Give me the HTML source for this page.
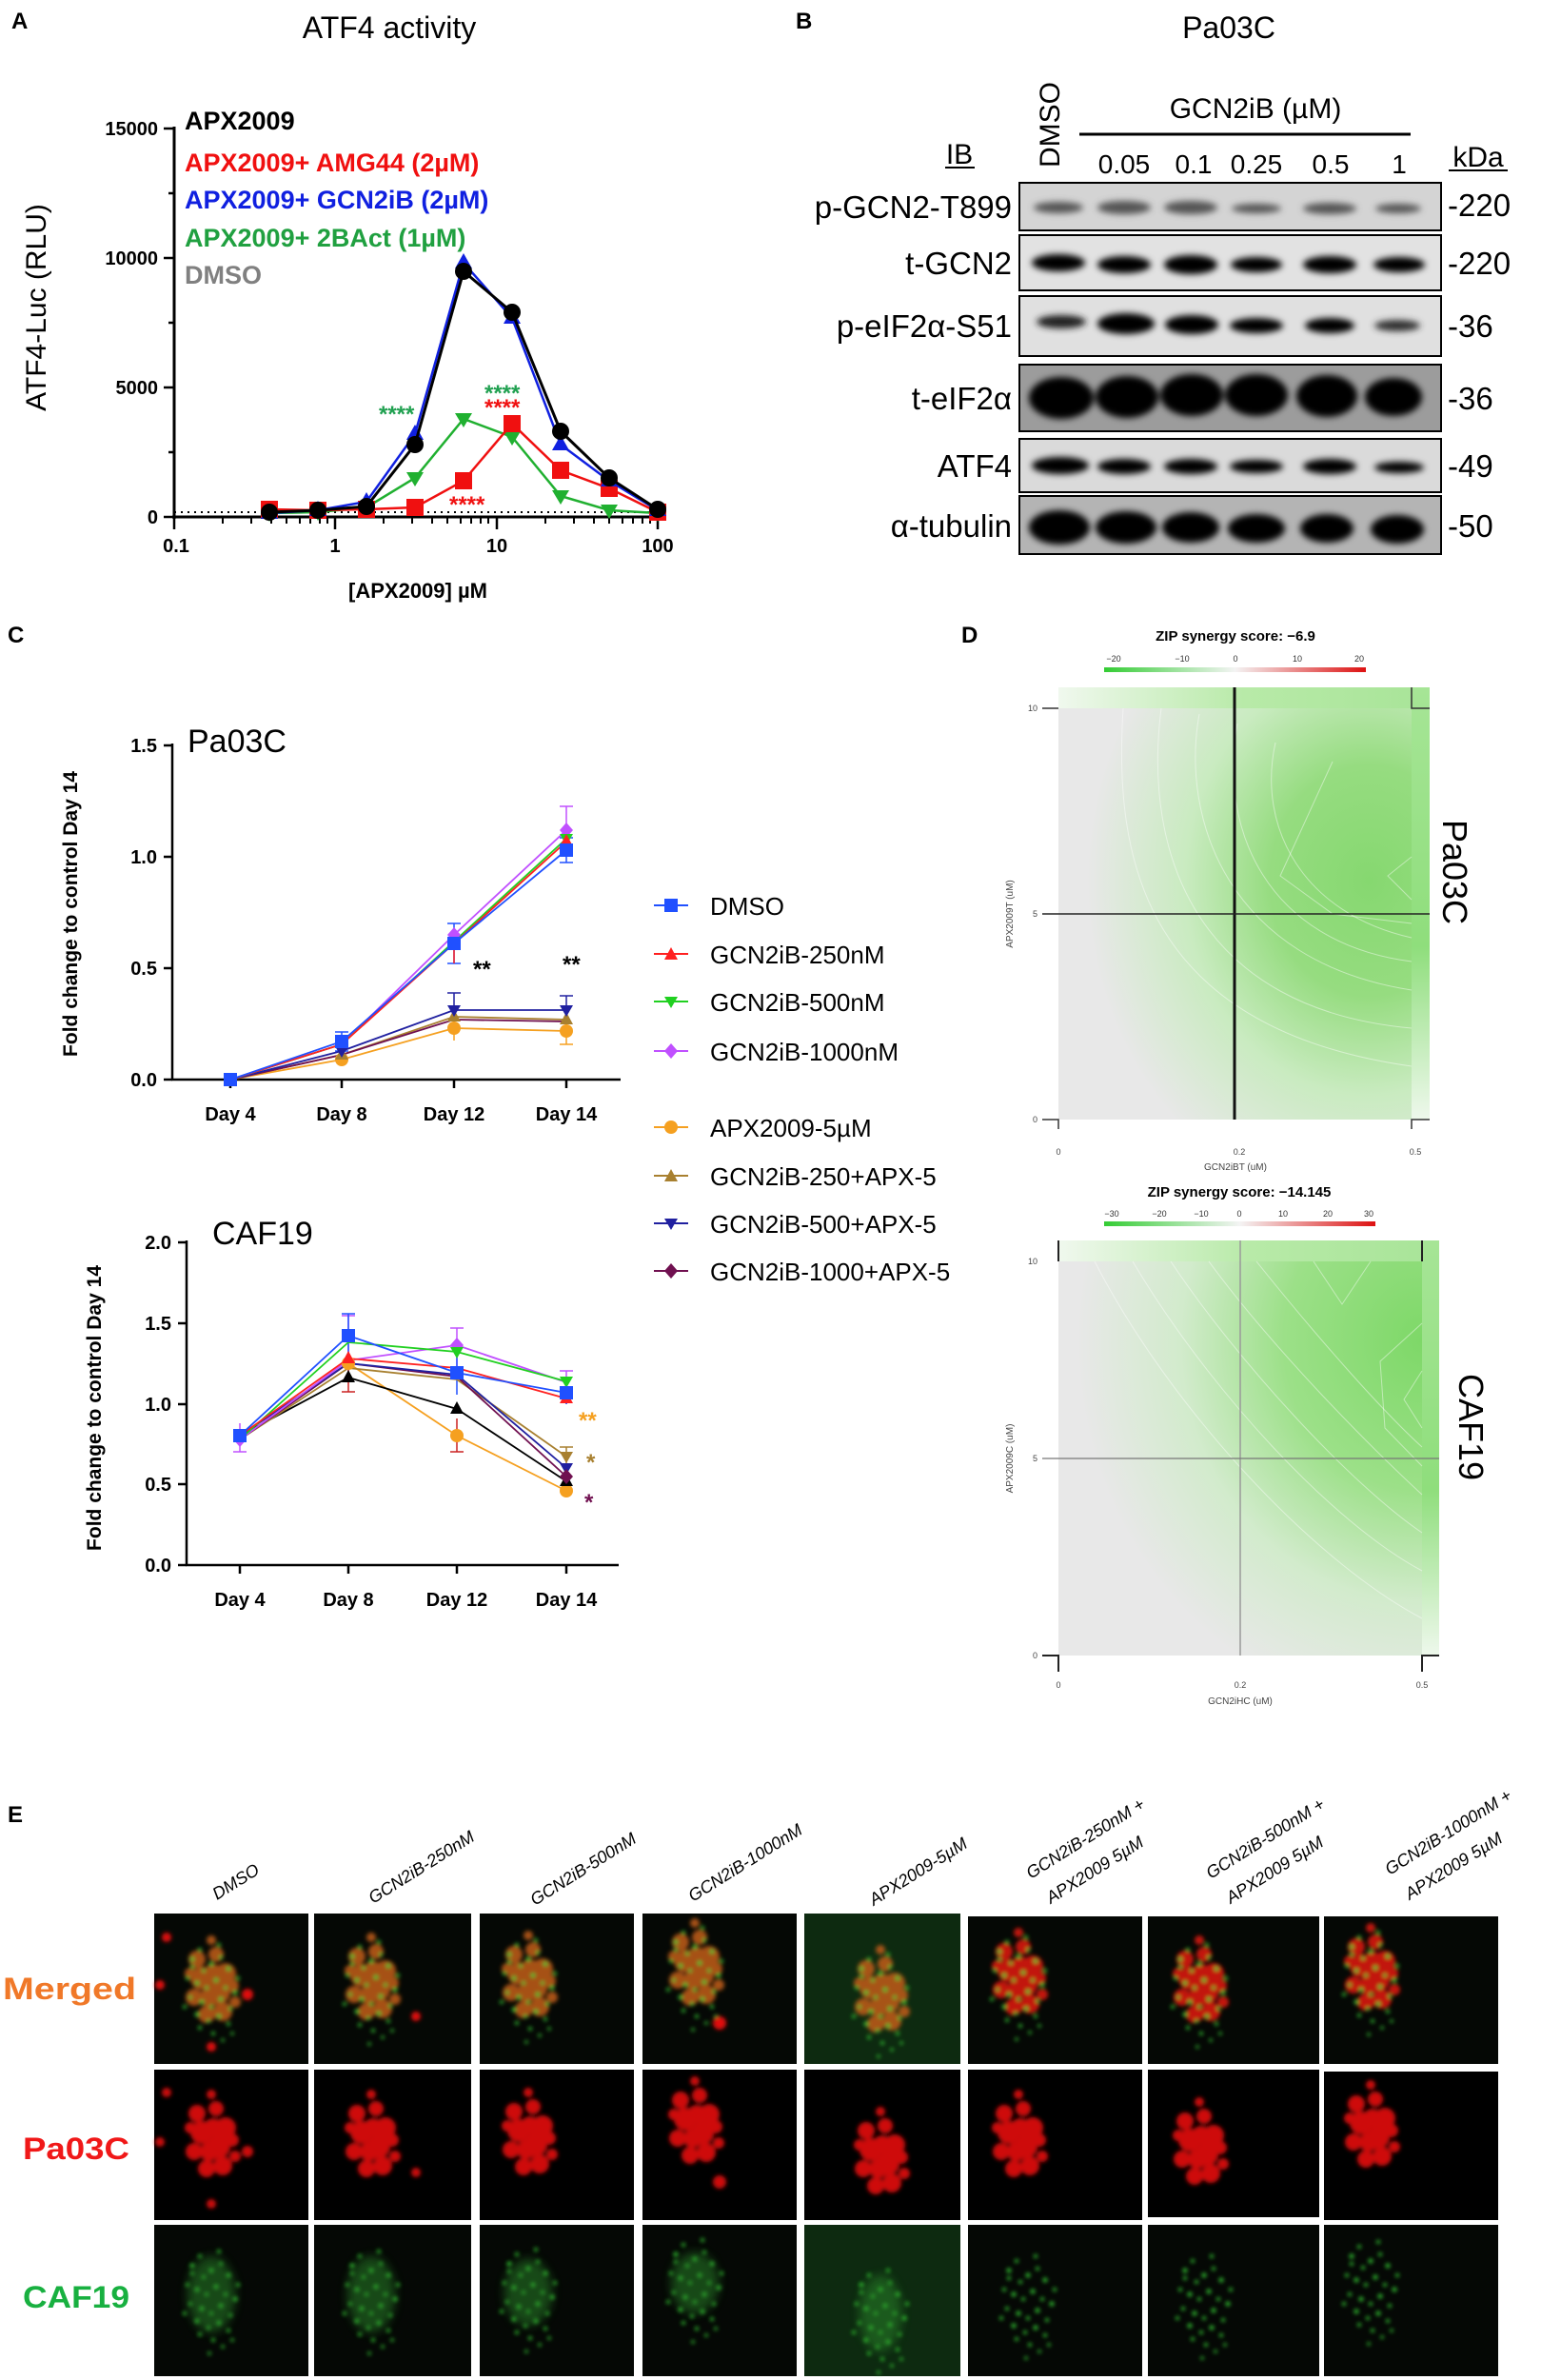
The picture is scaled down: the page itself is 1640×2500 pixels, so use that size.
<!DOCTYPE html>
<html><head><meta charset="utf-8"><style>
html,body{margin:0;padding:0;background:#fff;}
svg{display:block;}
text{font-family:"Liberation Sans",Arial,sans-serif;}
</style></head><body>
<svg width="1640" height="2500" viewBox="0 0 1640 2500" xmlns="http://www.w3.org/2000/svg">
<defs>
<rect id="sq" x="-7" y="-7" width="14" height="14"/>
<polygon id="tu" points="0,-8 7,5 -7,5"/>
<polygon id="td" points="0,7 7,-5 -7,-5"/>
<polygon id="di" points="0,-8 7,0 0,8 -7,0"/>
<circle id="ci" r="7"/>
<rect id="sqA" x="-9" y="-9" width="18" height="18"/>
<polygon id="tuA" points="0,-10 9,6 -9,6"/>
<polygon id="tdA" points="0,9 9,-6 -9,-6"/>
<circle id="ciA" r="9"/>
<filter id="bl" x="-50%" y="-50%" width="200%" height="200%"><feGaussianBlur stdDeviation="2.2"/></filter>
<filter id="bl3" x="-50%" y="-50%" width="200%" height="200%"><feGaussianBlur stdDeviation="3.5"/></filter>
<filter id="bl2" x="-50%" y="-50%" width="200%" height="200%"><feGaussianBlur stdDeviation="5"/></filter>
<g id="red1">
<circle cx="-15" cy="-30" r="9"/><circle cx="5" cy="-35" r="8"/><circle cx="15" cy="-15" r="11"/><circle cx="-10" cy="-10" r="12"/><circle cx="8" cy="5" r="12"/><circle cx="-18" cy="10" r="9"/><circle cx="12" cy="25" r="10"/><circle cx="-5" cy="28" r="9"/><circle cx="22" cy="-2" r="7"/><circle cx="-22" cy="-15" r="6"/><circle cx="0" cy="-50" r="5"/><circle cx="25" cy="15" r="6"/><circle cx="-2" cy="10" r="10"/><circle cx="2" cy="-15" r="10"/>
</g>
<g id="grn1">
<circle cx="-20" cy="-30" r="2.5"/><circle cx="-12" cy="-40" r="2"/><circle cx="0" cy="-25" r="2.5"/><circle cx="10" cy="-32" r="2"/><circle cx="18" cy="-20" r="2.5"/><circle cx="-25" cy="-10" r="2"/><circle cx="-15" cy="-5" r="2.5"/><circle cx="-5" cy="0" r="2"/><circle cx="5" cy="-8" r="2.5"/><circle cx="15" cy="0" r="2"/><circle cx="25" cy="5" r="2.5"/><circle cx="-22" cy="10" r="2"/><circle cx="-10" cy="15" r="2.5"/><circle cx="0" cy="20" r="2"/><circle cx="10" cy="12" r="2.5"/><circle cx="20" cy="22" r="2"/><circle cx="-15" cy="28" r="2.5"/><circle cx="-3" cy="35" r="2"/><circle cx="8" cy="30" r="2.5"/><circle cx="18" cy="38" r="2"/><circle cx="-8" cy="-18" r="2"/><circle cx="8" cy="-45" r="2"/><circle cx="-28" cy="20" r="2"/><circle cx="28" cy="-10" r="2"/><circle cx="2" cy="48" r="2"/><circle cx="-12" cy="42" r="2"/><circle cx="12" cy="55" r="1.8"/><circle cx="-2" cy="62" r="1.8"/><circle cx="22" cy="48" r="1.8"/><circle cx="-20" cy="-22" r="2"/>
</g>
<radialGradient id="hm1" cx="0.88" cy="0.42" r="0.8">
<stop offset="0" stop-color="#86d870"/><stop offset="0.35" stop-color="#96dc80"/><stop offset="0.65" stop-color="#c9ebc0"/><stop offset="1" stop-color="#e8e8e8"/></radialGradient>
<radialGradient id="hm2" cx="1.0" cy="0.2" r="0.95">
<stop offset="0" stop-color="#7ed868"/><stop offset="0.4" stop-color="#9ce088"/><stop offset="0.7" stop-color="#d2ebcc"/><stop offset="1" stop-color="#e8e8e8"/></radialGradient>
<linearGradient id="cb1" x1="0" x2="1"><stop offset="0" stop-color="#33cc33"/><stop offset="0.5" stop-color="#f4f4f4"/><stop offset="1" stop-color="#dd1111"/></linearGradient>
<linearGradient id="bandT" x1="0" x2="1"><stop offset="0" stop-color="#f0f8ee"/><stop offset="0.5" stop-color="#b8eaa8"/><stop offset="1" stop-color="#a8e498"/></linearGradient>
<linearGradient id="bandR" x1="0" x2="0" y1="0" y2="1"><stop offset="0" stop-color="#a6e596"/><stop offset="0.6" stop-color="#8fde7c"/><stop offset="1" stop-color="#eef8ec"/></linearGradient>
</defs>

<!-- ============ PANEL A ============ -->
<text x="12" y="30" font-size="24" font-weight="bold">A</text>
<text x="409" y="40" font-size="32" text-anchor="middle">ATF4 activity</text>
<g stroke="#000" stroke-width="3" fill="none">
<line x1="183" y1="133" x2="183" y2="545"/>
<line x1="181" y1="543" x2="693" y2="543"/>
</g>
<g stroke="#000" stroke-width="2.5">
<line x1="172" y1="135" x2="183" y2="135"/><line x1="172" y1="271" x2="183" y2="271"/><line x1="172" y1="407" x2="183" y2="407"/><line x1="172" y1="543" x2="183" y2="543"/>
<line x1="177" y1="203" x2="183" y2="203"/><line x1="177" y1="339" x2="183" y2="339"/><line x1="177" y1="475" x2="183" y2="475"/>
<line x1="183" y1="543" x2="183" y2="556"/><line x1="352" y1="543" x2="352" y2="556"/><line x1="522" y1="543" x2="522" y2="556"/><line x1="691" y1="543" x2="691" y2="556"/>
</g>
<g stroke="#000" stroke-width="2">
<line x1="234" y1="543" x2="234" y2="550"/><line x1="264" y1="543" x2="264" y2="550"/><line x1="285" y1="543" x2="285" y2="550"/><line x1="301" y1="543" x2="301" y2="550"/><line x1="315" y1="543" x2="315" y2="550"/><line x1="326" y1="543" x2="326" y2="550"/><line x1="336" y1="543" x2="336" y2="550"/><line x1="344" y1="543" x2="344" y2="550"/>
<line x1="403" y1="543" x2="403" y2="550"/><line x1="433" y1="543" x2="433" y2="550"/><line x1="454" y1="543" x2="454" y2="550"/><line x1="470" y1="543" x2="470" y2="550"/><line x1="484" y1="543" x2="484" y2="550"/><line x1="495" y1="543" x2="495" y2="550"/><line x1="505" y1="543" x2="505" y2="550"/><line x1="513" y1="543" x2="513" y2="550"/>
<line x1="573" y1="543" x2="573" y2="550"/><line x1="603" y1="543" x2="603" y2="550"/><line x1="624" y1="543" x2="624" y2="550"/><line x1="640" y1="543" x2="640" y2="550"/><line x1="654" y1="543" x2="654" y2="550"/><line x1="665" y1="543" x2="665" y2="550"/><line x1="675" y1="543" x2="675" y2="550"/><line x1="683" y1="543" x2="683" y2="550"/>
</g>
<g font-size="20" font-weight="bold" text-anchor="end">
<text x="166" y="142">15000</text><text x="166" y="278">10000</text><text x="166" y="414">5000</text><text x="166" y="550">0</text>
</g>
<g font-size="20" font-weight="bold" text-anchor="middle">
<text x="185" y="580">0.1</text><text x="352" y="580">1</text><text x="522" y="580">10</text><text x="691" y="580">100</text>
</g>
<text x="439" y="628" font-size="22" font-weight="bold" text-anchor="middle">[APX2009] µM</text>
<text transform="translate(48,323) rotate(-90)" font-size="30" text-anchor="middle">ATF4-Luc (RLU)</text>
<line x1="183" y1="538" x2="691" y2="538" stroke="#000" stroke-width="2" stroke-dasharray="2,5"/>
<g font-size="27" font-weight="bold">
<text x="194" y="136" fill="#000">APX2009</text>
<text x="194" y="180" fill="#f01010">APX2009+ AMG44 (2µM)</text>
<text x="194" y="219" fill="#1020e0">APX2009+ GCN2iB (2µM)</text>
<text x="194" y="259" fill="#20a040">APX2009+ 2BAct (1µM)</text>
<text x="194" y="298" fill="#808080">DMSO</text>
</g>
<polyline fill="none" stroke="#20b030" stroke-width="2.5" points="283,539 334,538 385,533 436,502 487,440 538,459 589,521 640,536 691,539"/>
<g fill="#20b030"><use href="#tdA" x="283" y="539"/><use href="#tdA" x="334" y="538"/><use href="#tdA" x="385" y="533"/><use href="#tdA" x="436" y="502"/><use href="#tdA" x="487" y="440"/><use href="#tdA" x="538" y="459"/><use href="#tdA" x="589" y="521"/><use href="#tdA" x="640" y="536"/><use href="#tdA" x="691" y="539"/></g>
<polyline fill="none" stroke="#f01010" stroke-width="2.5" points="283,535 334,536 385,535 436,533 487,505 538,445 589,494 640,513 691,538"/>
<g fill="#f01010"><use href="#sqA" x="283" y="535"/><use href="#sqA" x="334" y="536"/><use href="#sqA" x="385" y="535"/><use href="#sqA" x="436" y="533"/><use href="#sqA" x="487" y="505"/><use href="#sqA" x="538" y="445"/><use href="#sqA" x="589" y="494"/><use href="#sqA" x="640" y="513"/><use href="#sqA" x="691" y="538"/></g>
<polyline fill="none" stroke="#1020e0" stroke-width="2.5" points="283,539 334,536 385,527 436,456 487,276 538,334 589,467 640,505 691,536"/>
<g fill="#1020e0"><use href="#tuA" x="283" y="539"/><use href="#tuA" x="334" y="536"/><use href="#tuA" x="385" y="527"/><use href="#tuA" x="436" y="456"/><use href="#tuA" x="487" y="276"/><use href="#tuA" x="538" y="334"/><use href="#tuA" x="589" y="467"/><use href="#tuA" x="640" y="505"/><use href="#tuA" x="691" y="536"/></g>
<polyline fill="none" stroke="#000" stroke-width="3" points="283,538 334,536 385,532 436,467 487,285 538,328 589,453 640,502 691,535"/>
<g fill="#000"><use href="#ciA" x="283" y="538"/><use href="#ciA" x="334" y="536"/><use href="#ciA" x="385" y="532"/><use href="#ciA" x="436" y="467"/><use href="#ciA" x="487" y="285"/><use href="#ciA" x="538" y="328"/><use href="#ciA" x="589" y="453"/><use href="#ciA" x="640" y="502"/><use href="#ciA" x="691" y="535"/></g>
<g font-size="24" font-weight="bold">
<text x="398" y="443" fill="#20a050">****</text>
<text x="509" y="421" fill="#20a050">****</text>
<text x="509" y="436" fill="#f01010">****</text>
<text x="472" y="538" fill="#f01010">****</text>
</g>

<!-- ============ PANEL B ============ -->
<text x="836" y="30" font-size="24" font-weight="bold">B</text>
<text x="1291" y="40" font-size="32" text-anchor="middle">Pa03C</text>
<text x="1008" y="172" font-size="30" text-anchor="middle">IB</text>
<line x1="993" y1="176" x2="1024" y2="176" stroke="#000" stroke-width="2"/>
<text transform="translate(1113,176) rotate(-90)" font-size="30">DMSO</text>
<text x="1319" y="124" font-size="30" text-anchor="middle">GCN2iB (µM)</text>
<line x1="1134" y1="141" x2="1482" y2="141" stroke="#000" stroke-width="3"/>
<g font-size="28" text-anchor="middle">
<text x="1181" y="182">0.05</text><text x="1254" y="182">0.1</text><text x="1320" y="182">0.25</text><text x="1398" y="182">0.5</text><text x="1470" y="182">1</text>
</g>
<text x="1553" y="175" font-size="30" text-anchor="middle">kDa</text>
<line x1="1522" y1="179" x2="1584" y2="179" stroke="#000" stroke-width="2"/>
<g font-size="33" text-anchor="end">
<text x="1063" y="229">p-GCN2-T899</text>
<text x="1063" y="288">t-GCN2</text>
<text x="1063" y="354">p-eIF2α-S51</text>
<text x="1063" y="430">t-eIF2α</text>
<text x="1063" y="501">ATF4</text>
<text x="1063" y="564">α-tubulin</text>
</g>
<g font-size="33">
<text x="1521" y="227">-220</text><text x="1521" y="288">-220</text><text x="1521" y="354">-36</text><text x="1521" y="430">-36</text><text x="1521" y="501">-49</text><text x="1521" y="564">-50</text>
</g>
<g stroke="#000" stroke-width="2">
<rect x="1071" y="192" width="443" height="50" fill="#d4d4d4"/>
<rect x="1071" y="247" width="443" height="58" fill="#e2e2e2"/>
<rect x="1071" y="311" width="443" height="63" fill="#e0e0e0"/>
<rect x="1071" y="383" width="443" height="70" fill="#9c9c9c"/>
<rect x="1071" y="461" width="443" height="56" fill="#dadada"/>
<rect x="1071" y="521" width="443" height="61" fill="#b4b4b4"/>
</g>
<g filter="url(#bl3)" fill="#000">
<g fill="#555"><ellipse cx="1112" cy="218" rx="26" ry="6"/><ellipse cx="1181" cy="218" rx="28" ry="7"/><ellipse cx="1251" cy="218" rx="28" ry="7"/><ellipse cx="1320" cy="219" rx="26" ry="5"/><ellipse cx="1397" cy="219" rx="28" ry="6"/><ellipse cx="1469" cy="219" rx="24" ry="5"/></g>
<ellipse cx="1112" cy="276" rx="28" ry="9"/><ellipse cx="1181" cy="278" rx="28" ry="9"/><ellipse cx="1251" cy="278" rx="28" ry="10"/><ellipse cx="1320" cy="278" rx="27" ry="8"/><ellipse cx="1397" cy="278" rx="28" ry="9"/><ellipse cx="1470" cy="278" rx="27" ry="8"/>
<g fill="#222"><ellipse cx="1115" cy="338" rx="26" ry="7"/></g><ellipse cx="1183" cy="340" rx="30" ry="11"/><ellipse cx="1252" cy="341" rx="28" ry="10"/><ellipse cx="1320" cy="342" rx="28" ry="8"/><ellipse cx="1397" cy="342" rx="26" ry="8"/><g fill="#333"><ellipse cx="1468" cy="342" rx="24" ry="6"/></g>
<ellipse cx="1115" cy="418" rx="34" ry="22"/><ellipse cx="1184" cy="417" rx="33" ry="22"/><ellipse cx="1252" cy="415" rx="33" ry="22"/><ellipse cx="1320" cy="415" rx="33" ry="22"/><ellipse cx="1394" cy="416" rx="32" ry="22"/><ellipse cx="1464" cy="417" rx="30" ry="20"/>
<ellipse cx="1114" cy="489" rx="30" ry="9"/><ellipse cx="1181" cy="490" rx="28" ry="8"/><ellipse cx="1251" cy="490" rx="28" ry="8"/><ellipse cx="1320" cy="490" rx="28" ry="7"/><ellipse cx="1397" cy="490" rx="28" ry="8"/><ellipse cx="1470" cy="491" rx="26" ry="6"/>
<ellipse cx="1113" cy="554" rx="32" ry="18"/><ellipse cx="1183" cy="554" rx="32" ry="17"/><ellipse cx="1251" cy="554" rx="30" ry="16"/><ellipse cx="1320" cy="555" rx="30" ry="15"/><ellipse cx="1394" cy="555" rx="28" ry="15"/><ellipse cx="1468" cy="556" rx="28" ry="15"/>
</g>

<!-- ============ PANEL C ============ -->
<text x="8" y="675" font-size="24" font-weight="bold">C</text>
<g stroke="#000" stroke-width="2.5">
<line x1="181" y1="781" x2="181" y2="1135"/><line x1="180" y1="1134" x2="652" y2="1134"/>
<line x1="172" y1="783" x2="181" y2="783"/><line x1="172" y1="900" x2="181" y2="900"/><line x1="172" y1="1017" x2="181" y2="1017"/><line x1="172" y1="1134" x2="181" y2="1134"/>
<line x1="242" y1="1134" x2="242" y2="1143"/><line x1="359" y1="1134" x2="359" y2="1143"/><line x1="477" y1="1134" x2="477" y2="1143"/><line x1="595" y1="1134" x2="595" y2="1143"/>
</g>
<g font-size="20" font-weight="bold" text-anchor="end"><text x="165" y="790">1.5</text><text x="165" y="907">1.0</text><text x="165" y="1024">0.5</text><text x="165" y="1141">0.0</text></g>
<g font-size="20" font-weight="bold" text-anchor="middle"><text x="242" y="1177">Day 4</text><text x="359" y="1177">Day 8</text><text x="477" y="1177">Day 12</text><text x="595" y="1177">Day 14</text></g>
<text x="197" y="790" font-size="34">Pa03C</text>
<text transform="translate(81,960) rotate(-90)" font-size="21" font-weight="bold" text-anchor="middle">Fold change to control Day 14</text>
<g stroke-width="1.5" fill="none">
<path d="M359,1084V1104M352,1084h14M352,1104h14M477,970V1012M470,970h14M470,1012h14M595,880V906M588,880h14M588,906h14" stroke="#2050ff"/>
<path d="M595,847V897M588,847h14" stroke="#c050ff"/>
<path d="M477,975V1012M595,869V900" stroke="#ff2020"/>
<path d="M477,1043V1079M470,1043h14M595,1046V1076M588,1046h14" stroke="#2020a0"/>
<path d="M477,1070V1093M595,1070V1097M588,1097h14" stroke="#f5a020"/>
</g>
<g fill="none" stroke-width="1.8">
<polyline stroke="#f5a020" points="242,1134 359,1113 477,1080 595,1083"/>
<polyline stroke="#a88030" points="242,1134 359,1108 477,1068 595,1071"/>
<polyline stroke="#701050" points="242,1134 359,1108 477,1071 595,1073"/>
<polyline stroke="#2020a0" points="242,1134 359,1104 477,1061 595,1061"/>
<polyline stroke="#c050ff" points="242,1134 359,1097 477,982 595,872"/>
<polyline stroke="#20d020" points="242,1134 359,1097 477,989 595,881"/>
<polyline stroke="#ff2020" points="242,1134 359,1097 477,991 595,884"/>
<polyline stroke="#2050ff" points="242,1134 359,1094 477,991 595,893"/>
</g>
<g fill="#f5a020"><use href="#ci" x="359" y="1113"/><use href="#ci" x="477" y="1080"/><use href="#ci" x="595" y="1083"/></g>
<g fill="#a88030"><use href="#tu" x="359" y="1108"/><use href="#tu" x="477" y="1068"/><use href="#tu" x="595" y="1071"/></g>
<g fill="#2020a0"><use href="#td" x="359" y="1104"/><use href="#td" x="477" y="1061"/><use href="#td" x="595" y="1061"/></g>
<g fill="#c050ff"><use href="#di" x="477" y="982"/><use href="#di" x="595" y="872"/></g>
<g fill="#20d020"><use href="#td" x="595" y="881"/></g>
<g fill="#ff2020"><use href="#tu" x="595" y="884"/></g>
<g fill="#2050ff"><use href="#sq" x="242" y="1134"/><use href="#sq" x="359" y="1094"/><use href="#sq" x="477" y="991"/><use href="#sq" x="595" y="893"/></g>
<g font-size="24" font-weight="bold"><text x="497" y="1026">**</text><text x="591" y="1021">**</text></g>

<g stroke="#000" stroke-width="2.5">
<line x1="196" y1="1303" x2="196" y2="1645"/><line x1="195" y1="1644" x2="650" y2="1644"/>
<line x1="187" y1="1305" x2="196" y2="1305"/><line x1="187" y1="1390" x2="196" y2="1390"/><line x1="187" y1="1475" x2="196" y2="1475"/><line x1="187" y1="1559" x2="196" y2="1559"/><line x1="187" y1="1644" x2="196" y2="1644"/>
<line x1="252" y1="1644" x2="252" y2="1653"/><line x1="366" y1="1644" x2="366" y2="1653"/><line x1="480" y1="1644" x2="480" y2="1653"/><line x1="595" y1="1644" x2="595" y2="1653"/>
</g>
<g font-size="20" font-weight="bold" text-anchor="end"><text x="180" y="1312">2.0</text><text x="180" y="1397">1.5</text><text x="180" y="1482">1.0</text><text x="180" y="1566">0.5</text><text x="180" y="1651">0.0</text></g>
<g font-size="20" font-weight="bold" text-anchor="middle"><text x="252" y="1687">Day 4</text><text x="366" y="1687">Day 8</text><text x="480" y="1687">Day 12</text><text x="595" y="1687">Day 14</text></g>
<text x="223" y="1307" font-size="34">CAF19</text>
<text transform="translate(106,1479) rotate(-90)" font-size="21" font-weight="bold" text-anchor="middle">Fold change to control Day 14</text>
<g stroke-width="1.5" fill="none">
<path d="M252,1495V1525M245,1525h14M366,1382V1424M359,1382h14M480,1395V1435M473,1395h14M595,1440V1475M588,1440h14" stroke="#c050ff"/>
<path d="M366,1380V1425M359,1380h14M480,1425V1465M595,1450V1475" stroke="#2050ff"/>
<path d="M366,1432V1462M359,1462h14M480,1490V1525M473,1525h14" stroke="#cc2222"/>
<path d="M595,1520V1540M588,1520h14" stroke="#a88030"/>
</g>
<g fill="none" stroke-width="1.8">
<polyline stroke="#f5a020" points="252,1508 366,1432 480,1508 595,1566"/>
<polyline stroke="#000" points="252,1508 366,1447 480,1480 595,1556"/>
<polyline stroke="#a88030" points="252,1512 366,1437 480,1449 595,1530"/>
<polyline stroke="#701050" points="252,1512 366,1432 480,1446 595,1551"/>
<polyline stroke="#2020a0" points="252,1508 366,1432 480,1444 595,1542"/>
<polyline stroke="#c050ff" points="252,1512 366,1429 480,1413 595,1452"/>
<polyline stroke="#20d020" points="252,1512 366,1410 480,1420 595,1451"/>
<polyline stroke="#ff2020" points="252,1508 366,1427 480,1437 595,1469"/>
<polyline stroke="#2050ff" points="252,1508 366,1403 480,1442 595,1463"/>
</g>
<g fill="#f5a020"><use href="#ci" x="480" y="1508"/><use href="#ci" x="595" y="1566"/><use href="#ci" x="366" y="1432"/></g>
<g fill="#000"><use href="#tu" x="366" y="1447"/><use href="#tu" x="480" y="1480"/><use href="#tu" x="595" y="1556"/></g>
<g fill="#a88030"><use href="#td" x="595" y="1530"/></g>
<g fill="#2020a0"><use href="#td" x="595" y="1542"/></g>
<g fill="#701050"><use href="#di" x="595" y="1551"/></g>
<g fill="#c050ff"><use href="#di" x="480" y="1413"/><use href="#di" x="252" y="1512"/></g>
<g fill="#20d020"><use href="#td" x="480" y="1420"/><use href="#td" x="595" y="1451"/></g>
<g fill="#ff2020"><use href="#tu" x="366" y="1427"/><use href="#tu" x="595" y="1469"/></g>
<g fill="#2050ff"><use href="#sq" x="252" y="1508"/><use href="#sq" x="366" y="1403"/><use href="#sq" x="480" y="1442"/><use href="#sq" x="595" y="1463"/></g>
<g font-size="24" font-weight="bold">
<text x="608" y="1500" fill="#f5a020">**</text>
<text x="616" y="1544" fill="#a88030">*</text>
<text x="614" y="1586" fill="#701050">*</text>
</g>

<g stroke-width="2">
<line x1="687" y1="951" x2="723" y2="951" stroke="#2050ff"/><line x1="687" y1="1002" x2="723" y2="1002" stroke="#ff2020"/><line x1="687" y1="1052" x2="723" y2="1052" stroke="#20d020"/><line x1="687" y1="1104" x2="723" y2="1104" stroke="#c050ff"/>
<line x1="687" y1="1184" x2="723" y2="1184" stroke="#f5a020"/><line x1="687" y1="1235" x2="723" y2="1235" stroke="#a88030"/><line x1="687" y1="1285" x2="723" y2="1285" stroke="#2020a0"/><line x1="687" y1="1335" x2="723" y2="1335" stroke="#701050"/>
</g>
<use href="#sq" x="705" y="951" fill="#2050ff"/><use href="#tu" x="705" y="1003" fill="#ff2020"/><use href="#td" x="705" y="1052" fill="#20d020"/><use href="#di" x="705" y="1104" fill="#c050ff"/>
<use href="#ci" x="705" y="1184" fill="#f5a020"/><use href="#tu" x="705" y="1236" fill="#a88030"/><use href="#td" x="705" y="1285" fill="#2020a0"/><use href="#di" x="705" y="1335" fill="#701050"/>
<g font-size="26">
<text x="746" y="961">DMSO</text><text x="746" y="1012">GCN2iB-250nM</text><text x="746" y="1062">GCN2iB-500nM</text><text x="746" y="1114">GCN2iB-1000nM</text>
<text x="746" y="1194">APX2009-5µM</text><text x="746" y="1245">GCN2iB-250+APX-5</text><text x="746" y="1295">GCN2iB-500+APX-5</text><text x="746" y="1345">GCN2iB-1000+APX-5</text>
</g>

<!-- ============ PANEL D ============ -->
<text x="1010" y="675" font-size="24" font-weight="bold">D</text>
<text x="1298" y="673" font-size="15" font-weight="bold" text-anchor="middle">ZIP synergy score: −6.9</text>
<rect x="1160" y="701" width="275" height="5" fill="url(#cb1)"/>
<g font-size="9" text-anchor="middle" fill="#333"><text x="1170" y="695">−20</text><text x="1242" y="695">−10</text><text x="1298" y="695">0</text><text x="1363" y="695">10</text><text x="1428" y="695">20</text></g>
<rect x="1112" y="722" width="390" height="22" fill="url(#bandT)"/>
<rect x="1483" y="722" width="19" height="454" fill="url(#bandR)"/>
<rect x="1112" y="744" width="371" height="432" fill="url(#hm1)"/>
<g fill="none" stroke="#fff" stroke-opacity="0.45" stroke-width="1">
<path d="M1180,744 C1170,900 1200,1080 1483,1120"/>
<path d="M1220,744 C1200,900 1260,1060 1483,1080"/>
<path d="M1260,750 C1240,860 1290,1010 1483,1040"/>
<path d="M1300,760 C1280,870 1330,990 1483,1010"/>
<path d="M1340,780 C1320,870 1370,960 1483,985"/>
<path d="M1400,800 L1345,920 L1400,960 L1483,970"/>
<path d="M1483,900 L1458,920 L1483,945"/>
</g>
<line x1="1297" y1="722" x2="1297" y2="1176" stroke="#111" stroke-width="3"/>
<line x1="1095" y1="960" x2="1502" y2="960" stroke="#222" stroke-width="1.5"/>
<g stroke="#333" stroke-width="1.5" fill="none"><path d="M1095,744H1112M1095,1176H1112V1186M1483,1186V1176H1502M1483,722V744H1502"/></g>
<g font-size="9" fill="#444" text-anchor="end"><text x="1090" y="747">10</text><text x="1090" y="963">5</text><text x="1090" y="1179">0</text></g>
<g font-size="9" fill="#444" text-anchor="middle"><text x="1112" y="1213">0</text><text x="1302" y="1213">0.2</text><text x="1487" y="1213">0.5</text></g>
<text x="1298" y="1229" font-size="10" text-anchor="middle" fill="#444">GCN2iBT (uM)</text>
<text transform="translate(1064,960) rotate(-90)" font-size="10" text-anchor="middle" fill="#444">APX2009T (uM)</text>
<text transform="translate(1516,916) rotate(90)" font-size="36" text-anchor="middle">Pa03C</text>

<text x="1302" y="1257" font-size="15" font-weight="bold" text-anchor="middle">ZIP synergy score: −14.145</text>
<rect x="1160" y="1283" width="285" height="5" fill="url(#cb1)"/>
<g font-size="9" text-anchor="middle" fill="#333"><text x="1168" y="1278">−30</text><text x="1218" y="1278">−20</text><text x="1262" y="1278">−10</text><text x="1302" y="1278">0</text><text x="1348" y="1278">10</text><text x="1395" y="1278">20</text><text x="1438" y="1278">30</text></g>
<rect x="1112" y="1303" width="400" height="22" fill="url(#bandT)"/>
<rect x="1494" y="1303" width="18" height="436" fill="url(#bandR)"/>
<rect x="1112" y="1325" width="382" height="414" fill="url(#hm2)"/>
<g fill="none" stroke="#fff" stroke-opacity="0.45" stroke-width="1">
<path d="M1150,1325 C1230,1480 1380,1640 1494,1700"/>
<path d="M1190,1325 C1270,1460 1400,1600 1494,1650"/>
<path d="M1230,1325 C1300,1430 1420,1560 1494,1610"/>
<path d="M1270,1325 C1340,1420 1440,1520 1494,1570"/>
<path d="M1320,1325 C1380,1400 1450,1480 1494,1520"/>
<path d="M1380,1325 L1410,1370 L1440,1325"/>
<path d="M1494,1390 L1450,1430 L1455,1500 L1494,1540"/>
<path d="M1494,1440 L1475,1470 L1494,1500"/>
</g>
<line x1="1303" y1="1303" x2="1303" y2="1739" stroke="#999" stroke-width="1.5"/>
<line x1="1095" y1="1532" x2="1512" y2="1532" stroke="#777" stroke-width="1.2"/>
<g stroke="#222" stroke-width="2" fill="none"><path d="M1095,1739H1112V1756M1494,1756V1739H1512M1112,1303V1325M1494,1303V1325"/></g>
<g font-size="9" fill="#444" text-anchor="end"><text x="1090" y="1328">10</text><text x="1090" y="1535">5</text><text x="1090" y="1742">0</text></g>
<g font-size="9" fill="#444" text-anchor="middle"><text x="1112" y="1773">0</text><text x="1303" y="1773">0.2</text><text x="1494" y="1773">0.5</text></g>
<text x="1303" y="1790" font-size="10" text-anchor="middle" fill="#444">GCN2iHC (uM)</text>
<text transform="translate(1064,1532) rotate(-90)" font-size="10" text-anchor="middle" fill="#444">APX2009C (uM)</text>
<text transform="translate(1533,1499) rotate(90)" font-size="36" text-anchor="middle">CAF19</text>

<!-- ============ PANEL E ============ -->
<text x="8" y="1914" font-size="24" font-weight="bold">E</text>
<g font-size="18" font-style="italic">
<text transform="translate(228,1996) rotate(-32)">DMSO</text>
<text transform="translate(392,2000) rotate(-32)">GCN2iB-250nM</text>
<text transform="translate(562,2002) rotate(-32)">GCN2iB-500nM</text>
<text transform="translate(728,1998) rotate(-32)">GCN2iB-1000nM</text>
<text transform="translate(918,2002) rotate(-32)">APX2009-5µM</text>
<text transform="translate(1083,1974) rotate(-32)">GCN2iB-250nM +</text>
<text transform="translate(1104,2000) rotate(-32)">APX2009 5µM</text>
<text transform="translate(1272,1974) rotate(-32)">GCN2iB-500nM +</text>
<text transform="translate(1293,2000) rotate(-32)">APX2009 5µM</text>
<text transform="translate(1460,1970) rotate(-32)">GCN2iB-1000nM +</text>
<text transform="translate(1481,1996) rotate(-32)">APX2009 5µM</text>
</g>
<g font-size="32" font-weight="bold" text-anchor="middle">
<text x="73" y="2100" fill="#f07828" textLength="140" lengthAdjust="spacingAndGlyphs">Merged</text>
<text x="80" y="2268" fill="#f01818" textLength="112" lengthAdjust="spacingAndGlyphs">Pa03C</text>
<text x="80" y="2424" fill="#18b040" textLength="112" lengthAdjust="spacingAndGlyphs">CAF19</text>
</g>
<g fill="#050805">
<rect x="162" y="2010" width="162" height="158"/><rect x="330" y="2010" width="165" height="158"/><rect x="504" y="2010" width="162" height="158"/><rect x="675" y="2010" width="162" height="158"/><rect x="845" y="2010" width="164" height="158" fill="#0d2a10"/><rect x="1017" y="2013" width="183" height="155"/><rect x="1206" y="2013" width="180" height="155"/><rect x="1391" y="2013" width="183" height="155"/>
<rect x="162" y="2174" width="162" height="158" fill="#000"/><rect x="330" y="2174" width="165" height="158" fill="#000"/><rect x="504" y="2174" width="162" height="158" fill="#000"/><rect x="675" y="2174" width="162" height="158" fill="#000"/><rect x="845" y="2174" width="164" height="158" fill="#000"/><rect x="1017" y="2174" width="183" height="158" fill="#000"/><rect x="1206" y="2174" width="180" height="155" fill="#000"/><rect x="1391" y="2176" width="183" height="156" fill="#000"/>
<rect x="162" y="2337" width="162" height="159"/><rect x="330" y="2337" width="165" height="159"/><rect x="504" y="2337" width="162" height="159"/><rect x="675" y="2337" width="162" height="159"/><rect x="845" y="2337" width="164" height="159" fill="#0d2a10"/><rect x="1017" y="2337" width="183" height="159"/><rect x="1206" y="2337" width="180" height="159"/><rect x="1391" y="2337" width="183" height="159"/>
</g>
<g filter="url(#bl)">
<g fill="#b85a18" opacity="0.9"><use href="#red1" x="222" y="2088"/><use href="#red1" x="390" y="2085"/><use href="#red1" x="555" y="2083"/><use href="#red1" x="730" y="2070"/><use href="#red1" x="925" y="2098"/></g>
<g fill="#d81810" opacity="0.9"><use href="#red1" x="1070" y="2080"/><use href="#red1" x="1260" y="2088"/><use href="#red1" x="1440" y="2075"/></g>
<g fill="#30c030"><use href="#grn1" x="222" y="2088"/><use href="#grn1" x="390" y="2085"/><use href="#grn1" x="555" y="2083"/><use href="#grn1" x="730" y="2070"/><use href="#grn1" x="925" y="2098"/><use href="#grn1" x="1070" y="2080"/><use href="#grn1" x="1260" y="2088"/><use href="#grn1" x="1440" y="2075"/></g>
<g fill="#e01010"><circle cx="175" cy="2035" r="5"/><circle cx="168" cy="2085" r="5"/><circle cx="260" cy="2095" r="6"/><circle cx="222" cy="2150" r="5"/><circle cx="756" cy="2125" r="7"/><circle cx="437" cy="2118" r="5"/></g>
</g>
<g filter="url(#bl)" fill="#e01010" opacity="0.92">
<use href="#red1" x="222" y="2250"/><use href="#red1" x="390" y="2250"/><use href="#red1" x="555" y="2248"/><use href="#red1" x="730" y="2236"/><use href="#red1" x="925" y="2268"/><use href="#red1" x="1070" y="2250"/><use href="#red1" x="1260" y="2258"/><use href="#red1" x="1440" y="2240"/>
<circle cx="175" cy="2198" r="5"/><circle cx="168" cy="2250" r="5"/><circle cx="260" cy="2260" r="6"/><circle cx="222" cy="2315" r="5"/><circle cx="756" cy="2292" r="7"/><circle cx="437" cy="2282" r="5"/>
</g>
<g filter="url(#bl)" fill="#30c830">
<use href="#grn1" x="222" y="2410"/><use href="#grn1" x="390" y="2410"/><use href="#grn1" x="555" y="2408"/><use href="#grn1" x="730" y="2398"/><use href="#grn1" x="925" y="2430"/><use href="#grn1" x="1080" y="2415"/><use href="#grn1" x="1265" y="2415"/><use href="#grn1" x="1440" y="2400"/>
</g>
<g filter="url(#bl2)" fill="#2a8a2a" opacity="0.5">
<ellipse cx="222" cy="2410" rx="25" ry="40"/><ellipse cx="390" cy="2410" rx="25" ry="40"/><ellipse cx="555" cy="2408" rx="25" ry="35"/><ellipse cx="730" cy="2398" rx="25" ry="32"/><ellipse cx="925" cy="2430" rx="22" ry="40"/>
</g>
</svg>
</body></html>
